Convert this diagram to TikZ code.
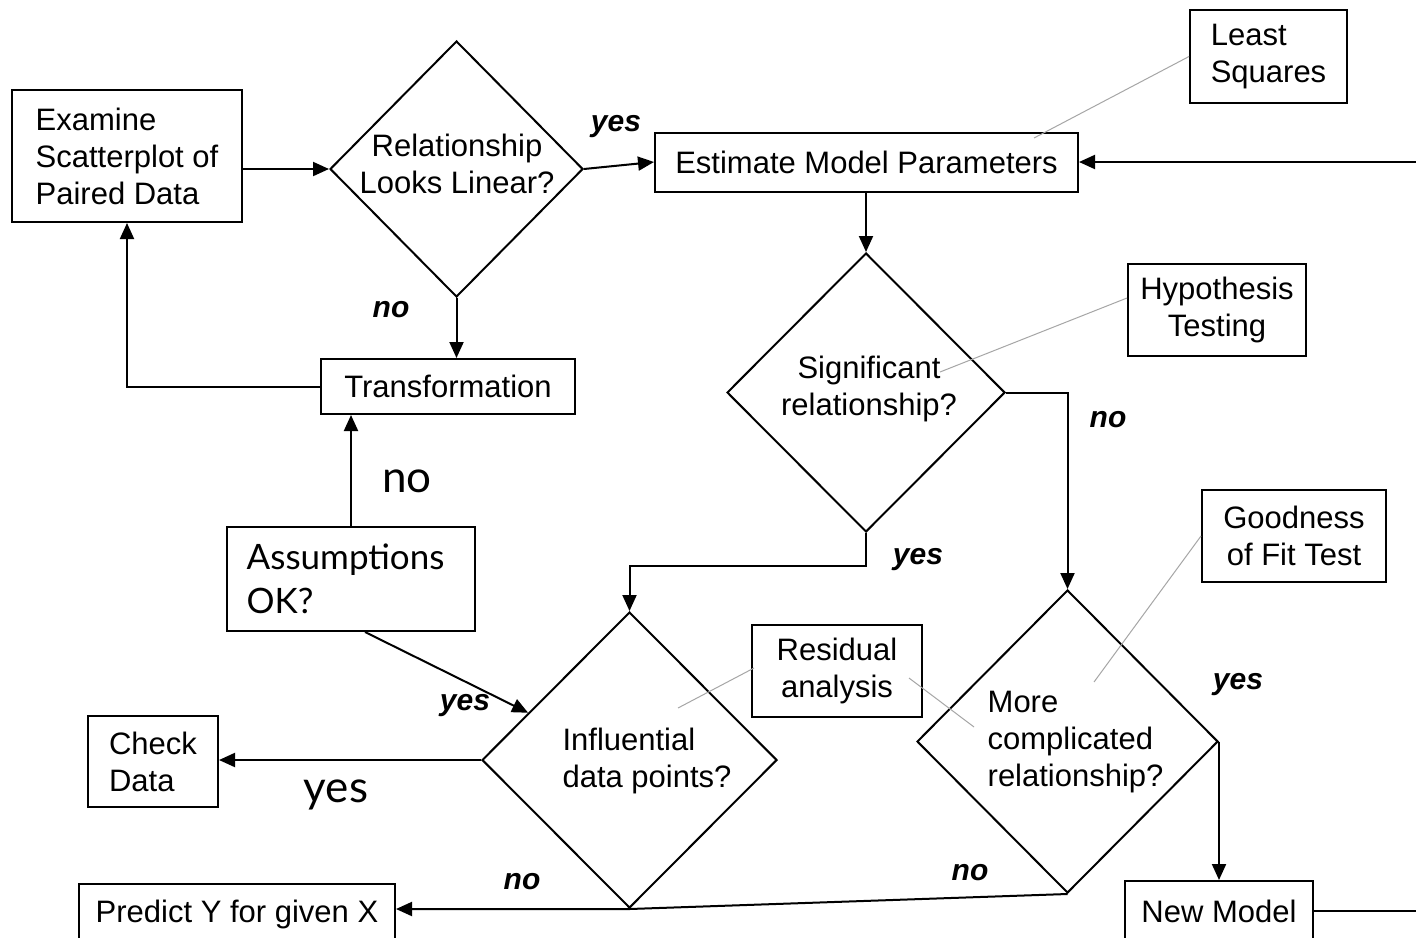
\documentclass[tikz,border=0pt]{standalone}
\usepackage{fontspec}
\setmainfont{Liberation Sans}
\newfontfamily\gill{Lato}
\usetikzlibrary{shapes.geometric,arrows.meta,calc}
\begin{document}
\begin{tikzpicture}[x=0.5pt,y=-0.5pt,
  font=\fontsize{15.5}{18.5}\selectfont,
  line width=1pt,
  box/.style={draw,rectangle,line width=1pt,inner sep=0pt},
  dia/.style={draw,diamond,aspect=1,inner sep=0pt,line width=1pt},
  arr/.style={-{Triangle[length=8pt,width=7pt]}},
  note/.style={draw=gray!70,line width=0.5pt},
  lbl/.style={font=\fontsize{15}{18}\selectfont\bfseries\itshape},
  gl/.style={font=\gill\fontsize{17.5}{22}\selectfont},
  gll/.style={font=\gill\fontsize{22}{26}\selectfont}]
\clip (0,0) rectangle (1416,937);
\fill[white] (0,0) rectangle (1416,937);

% boxes
\node[box,minimum width=115pt,minimum height=66pt,align=left] (exam) at (127,156) {Examine\\Scatterplot of\\Paired Data};
\node[dia,minimum width=126.5pt,minimum height=128pt] (d1) at (456.5,169) {};
\node[align=center] (d1t) at (457,164) {Relationship\\Looks Linear?};
\node[box,minimum width=211.5pt,minimum height=29.5pt] (est) at (866.5,162) {Estimate Model Parameters};
\node[box,minimum width=78.5pt,minimum height=46.5pt,align=left] (lsq) at (1268.5,56.5) {Least\\Squares};
\node[dia,minimum width=139pt,minimum height=139.5pt] (d2) at (866,392.5) {};
\node[align=center] (d2t) at (869,389) {Significant\\relationship?};
\node[box,minimum width=89pt,minimum height=46pt,align=center] (hyp) at (1217,310) {Hypothesis\\Testing};
\node[box,minimum width=127pt,minimum height=27.5pt] (trans) at (448,386.5) {Transformation};
\node[box,minimum width=124pt,minimum height=52pt] (assum) at (351,579) {};
\node[gl,align=left,anchor=west] (assumt) at (239,579) {Assumptions\\OK?};
\node[dia,minimum width=147.5pt,minimum height=148pt] (d3) at (629.5,760) {};
\node[align=left] (d3t) at (647,761) {Influential\\data points?};
\node[dia,minimum width=150.5pt,minimum height=151.5pt] (d4) at (1067.5,741.5) {};
\node[align=left,anchor=west] (d4t) at (980,742) {More\\complicated\\relationship?};
\node[box,minimum width=92pt,minimum height=46pt,align=center] (gof) at (1294,536) {Goodness\\of Fit Test};
\node[box,minimum width=85pt,minimum height=46pt,align=center] (res) at (837,671) {Residual\\analysis};
\node[box,minimum width=65pt,minimum height=45.5pt,align=left] (check) at (153,761.5) {Check\\Data};
\node[box,minimum width=158pt,minimum height=30pt,anchor=north] (pred) at (237,883) {Predict Y for given X};
\node[box,minimum width=94pt,minimum height=30pt,anchor=north] (newm) at (1219,880) {New Model};

% free ends
\coordinate (rin) at (1420,162);
\coordinate (rout) at (1420,909);

% connectors
\draw[arr] (exam.east |- d1.west) -- (d1.west);
\draw[arr] (d1.east) -- (est.west);
\draw[arr] (rin) -- (est.east);
\draw[arr] (est.south -| d2.north) -- (d2.north);
\draw[arr] (d2.east) -| (d4.north);
\draw[arr] (d2.south) -- ++(0,33) -| (d3.north);
\draw[arr] (d1.south) -- (d1.south |- trans.north);
\draw[arr] (trans.west) -| (exam.south);
\draw[arr] (assum.north) -- (assum.north |- trans.south);
\draw[arr] ($(assum.south)+(14,0)$) -- (d3.155);
\draw[arr] (d3.west) -- (d3.west -| check.east);
\draw[arr] (d4.south) -- (d3.south) -- (d3.south -| pred.east);
\draw[arr] (d4.east) -- (d4.east |- newm.north);
\draw (newm.east) -- (newm.east -| rout);

% annotation lines
\coordinate (lsqE) at (1034,138);
\coordinate (hypE) at (940,372);
\coordinate (gofE) at (1094,682);
\coordinate (resA) at (678,708);
\coordinate (resB) at (974,727);
\draw[note] (lsq.west) -- (lsqE);
\draw[note] ($(hyp.west)+(0,-12)$) -- (hypE);
\draw[note] (gof.west) -- (gofE);
\draw[note] ($(res.west)+(3,-3)$) -- (resA);
\draw[note] ($(res.east)+(-14,7)$) -- (resB);

% labels
\node[lbl] (l1) at (616,127) {yes};
\node[lbl] (l2) at (391,310) {no};
\node[lbl] (l3) at (1108,420) {no};
\node[lbl] (l4) at (918,560) {yes};
\node[lbl] (l5) at (1238,685) {yes};
\node[lbl] (l6) at (465,706) {yes};
\node[lbl] (l7) at (522,882) {no};
\node[lbl] (l8) at (970,873) {no};
\node[gll] (l9) at (407,481) {no};
\node[gll] (l10) at (336,795) {yes};
\end{tikzpicture}
\end{document}
